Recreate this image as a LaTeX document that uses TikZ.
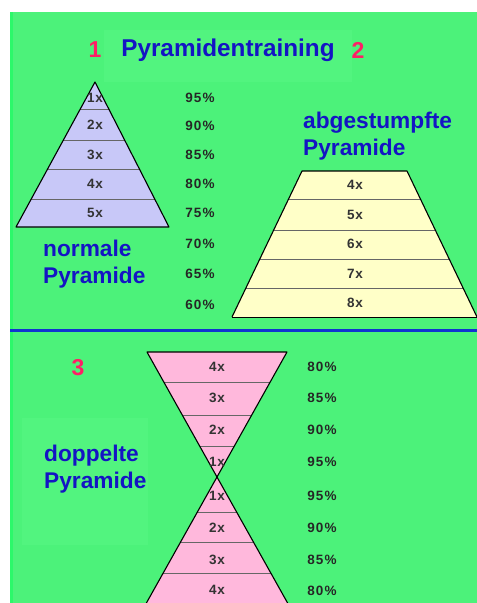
\documentclass[tikz,border=0pt]{standalone}
\usepackage{fontspec}
\setmainfont{Liberation Sans}
\begin{document}
\begin{tikzpicture}[x=1pt,y=-1pt,
  titletext/.style={font=\fontsize{24.3}{27}\selectfont\bfseries, text=blueT, inner sep=0pt},
  numtext/.style={font=\fontsize{23}{27}\selectfont\bfseries, text=redN, inner sep=0pt},
  captext/.style={font=\fontsize{22.7}{27}\selectfont\bfseries, text=blueT, align=left, inner sep=0pt, anchor=west},
  labtext/.style={font=\fontsize{13.5}{14}\selectfont\bfseries\addfontfeature{LetterSpace=6}, text=black!80, inner sep=0pt},
  pcttext/.style={font=\fontsize{13.5}{14}\selectfont\bfseries\addfontfeature{LetterSpace=8}, text=black!85, inner sep=0pt},
  bandline/.style={draw=black!60, line width=0.9pt},
  outlineline/.style={draw=black, line width=1.1pt, line join=round}]
\definecolor{bgG}{HTML}{4CF27A}
\definecolor{boxG}{HTML}{52F47F}
\definecolor{stripG}{HTML}{2CF86A}
\definecolor{blueT}{HTML}{1414C4}
\definecolor{redN}{HTML}{FF1F66}
\definecolor{lav}{HTML}{C8C8F8}
\definecolor{yel}{HTML}{FFFFC8}
\definecolor{pinkF}{HTML}{FFB8DC}
\definecolor{lineB}{HTML}{1034D0}
\useasboundingbox (0,0) rectangle (477,603);
\fill[white] (0,0) rectangle (477,603);
\fill[bgG] (10,12) rectangle (477,603);
\fill[stripG] (10,12) rectangle (12.5,603);
% subtle boxes
\fill[boxG] (104,30) rectangle (352,82);
\fill[boxG] (22,418) rectangle (148,545);
% divider
\draw[lineB, line width=2.2pt] (10,330.5) -- (477,330.5);

% title
\node[numtext] (n1) at (95,50) {1};
\node[titletext] (t) at (228,50) {Pyramidentraining};
\node[numtext] (n2) at (358,50) {2};

% normal pyramid
\coordinate (pa) at (95,82);
\coordinate (pl) at (16,227);
\coordinate (pr) at (169,227);
\fill[lav] (pa) -- (pl) -- (pr) -- cycle;
\begin{scope}
\clip (pa) -- (pl) -- (pr) -- cycle;
\foreach \y in {109,140,169,199} \draw[bandline] (10,\y) -- (180,\y);
\end{scope}
\draw[outlineline] (pa) -- (pl) -- (pr) -- cycle;
\foreach \t/\y [count=\i] in {1x/98,2x/125,3x/155,4x/184,5x/213}
  \node[labtext] (p1l\i) at (95,\y) {\t};

\foreach \t/\y [count=\i] in {95\%/98,90\%/126,85\%/155,80\%/184,75\%/213,70\%/244,65\%/274,60\%/305}
  \node[pcttext] (pc\i) at (200,\y) {\t};

\node[captext] (c1) at (43,264) {normale\\Pyramide};

% truncated pyramid
\node[captext] (c2) at (303,136) {abgestumpfte\\Pyramide};
\coordinate (tl) at (302,171);
\coordinate (tr) at (407,171);
\coordinate (bl) at (232,317);
\coordinate (br) at (477,317);
\fill[yel] (tl) -- (tr) -- (br) -- (bl) -- cycle;
\begin{scope}
\clip (tl) -- (tr) -- (br) -- (bl) -- cycle;
\foreach \y in {199,230,259,288} \draw[bandline] (220,\y) -- (477,\y);
\end{scope}
\draw[outlineline] (bl) -- (tl) -- (tr) -- (br);
\draw[draw=black, line width=0.6pt] (bl) -- (br);
\foreach \t/\y [count=\i] in {4x/185,5x/215,6x/244,7x/274,8x/303}
  \node[labtext] (p2l\i) at (355,\y) {\t};

% double pyramid
\node[numtext] (n3) at (78,368) {3};
\node[captext] (c3) at (44,469) {doppelte\\Pyramide};
\coordinate (ul) at (147,352);
\coordinate (ur) at (287,352);
\coordinate (mx) at (217,477);
\coordinate (ll) at (146.4,603);
\coordinate (lr) at (287.6,603);
\fill[pinkF] (ul) -- (ur) -- (mx) -- cycle;
\fill[pinkF] (mx) -- (lr) -- (ll) -- cycle;
\begin{scope}
\clip (ul) -- (ur) -- (mx) -- cycle (mx) -- (lr) -- (ll) -- cycle;
\foreach \y in {382,415,446,512,542,573} \draw[bandline] (130,\y) -- (300,\y);
\end{scope}
\draw[outlineline] (ul) -- (ur) -- (mx) -- cycle;
\draw[outlineline] (ll) -- (mx) -- (lr);
\foreach \t/\y [count=\i] in {4x/367,3x/398,2x/430,1x/462,1x/496,2x/528,3x/560,4x/590}
  \node[labtext] (p3l\i) at (217,\y) {\t};
\foreach \t/\y [count=\i] in {80\%/367,85\%/398,90\%/430,95\%/462,95\%/496,90\%/528,85\%/560,80\%/591}
  \node[pcttext] (pd\i) at (322,\y) {\t};
\end{tikzpicture}
\end{document}
